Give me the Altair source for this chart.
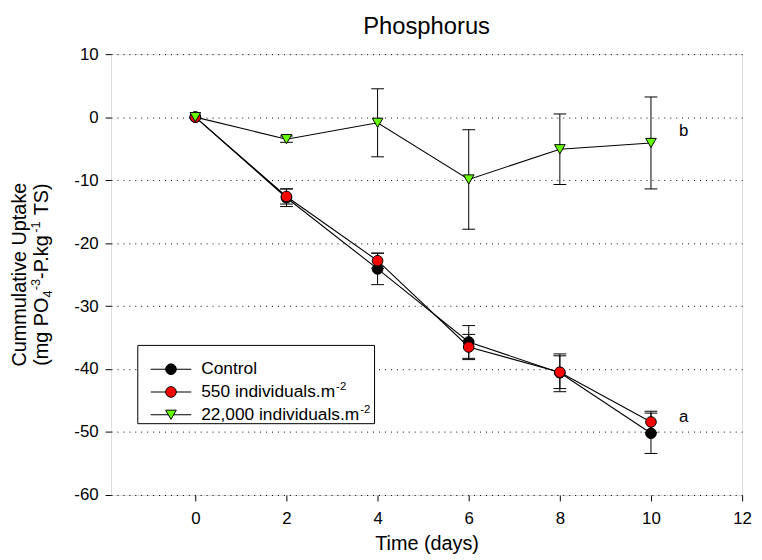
import altair as alt
import pandas as pd

# ---- data ----
days = [0, 2, 4, 6, 8, 10]
series_names = ["Control", "550 individuals.m", "22,000 individuals.m"]
control = [0, -12.8, -24.1, -35.7, -40.6, -50.2]
control_err = [0, 1.4, 2.5, 2.6, 3.0, 3.2]
ind550 = [0, -12.6, -22.8, -36.5, -40.5, -48.4]
ind550_err = [0, 1.2, 1.2, 2.0, 2.6, 1.7]
ind22000 = [0, -3.5, -0.9, -9.9, -5.1, -4.1]
ind22000_err = [0, 0.5, 5.4, 7.9, 5.6, 7.3]
sig_labels = ["b", "a"]
sig_x = [10.72, 10.72]
sig_y = [-2.2, -47.6]
x_ticks = [0, 2, 4, 6, 8, 10, 12]
y_ticks = [-60, -50, -40, -30, -20, -10, 0, 10]

fills = ["#000000", "#ff0000", "#66ff00"]
shapes = ["circle", "circle", "triangle-down"]

rows = []
for name, vals, errs in [(series_names[0], control, control_err),
                         (series_names[1], ind550, ind550_err),
                         (series_names[2], ind22000, ind22000_err)]:
    for d, v, e in zip(days, vals, errs):
        rows.append({"series": name, "day": d, "value": v, "err": e})
df = pd.DataFrame(rows)
sig_df = pd.DataFrame({"label": sig_labels, "x": sig_x, "y": sig_y})

FONT = "Liberation Sans"
W, H = 637, 445

xscale = alt.Scale(domain=[-1.85, 12], nice=False, zero=False)
yscale = alt.Scale(domain=[-60, 10], nice=False, zero=False)
xaxis = alt.Axis(values=x_ticks, title="Time (days)", grid=False, domain=False,
                 tickSize=6, tickColor="black", labelFontSize=17, labelFont=FONT,
                 labelColor="black", labelPadding=10, titleFont=FONT, titleFontSize=20,
                 titleFontWeight="normal", titleColor="black", titleBaseline="alphabetic",
                 titleY=55, labelFlush=False, labelExpr="'' + datum.value")
yaxis = alt.Axis(values=y_ticks, title=None, grid=True, gridDash=[1, 5], gridColor="black",
                 gridWidth=1, gridOpacity=1, domain=False, tickSize=6, tickColor="black",
                 labelFontSize=17, labelFont=FONT, labelColor="black", labelPadding=7,
                 labelFlush=False, labelExpr="'' + datum.value")

color_scale = alt.Scale(domain=series_names, range=fills)
shape_scale = alt.Scale(domain=series_names, range=shapes)

base = alt.Chart(df)

# error bars
eb = base.transform_filter("datum.err > 0").transform_calculate(
    lo="datum.value - datum.err", hi="datum.value + datum.err",
    cl="datum.day - 0.14", cr="datum.day + 0.14")
err_rule = eb.mark_rule(color="black", strokeWidth=1).encode(
    x=alt.X("day:Q", scale=xscale, axis=xaxis),
    y=alt.Y("lo:Q", scale=yscale, axis=yaxis),
    y2="hi:Q")
cap_lo = eb.mark_rule(color="black", strokeWidth=1).encode(
    x=alt.X("cl:Q", scale=xscale, axis=xaxis), x2="cr:Q",
    y=alt.Y("lo:Q", scale=yscale, axis=yaxis))
cap_hi = eb.mark_rule(color="black", strokeWidth=1).encode(
    x=alt.X("cl:Q", scale=xscale, axis=xaxis), x2="cr:Q",
    y=alt.Y("hi:Q", scale=yscale, axis=yaxis))

lines = base.mark_line(color="black", strokeWidth=1.1).encode(
    x=alt.X("day:Q", scale=xscale, axis=xaxis),
    y=alt.Y("value:Q", scale=yscale, axis=yaxis),
    detail="series:N", order="day:Q")

points = base.mark_point(filled=True, size=115, stroke="black", strokeWidth=1, opacity=1).encode(
    x=alt.X("day:Q", scale=xscale, axis=xaxis),
    y=alt.Y("value:Q", scale=yscale, axis=yaxis),
    fill=alt.Fill("series:N", scale=color_scale, legend=None),
    shape=alt.Shape("series:N", scale=shape_scale, legend=None),
    order=alt.Order("sidx:Q")
).transform_calculate(
    sidx="indexof(%s, datum.series)" % str(series_names).replace("'", '"'))

sig = alt.Chart(sig_df).mark_text(font=FONT, fontSize=17, color="black",
                                  align="center", baseline="middle").encode(
    x=alt.X("x:Q", scale=xscale, axis=xaxis),
    y=alt.Y("y:Q", scale=yscale, axis=yaxis),
    text="label:N")

one = pd.DataFrame({"k": [0]})

def txt(s, px, py, size, align="left", baseline="alphabetic", angle=0):
    kw = dict(font=FONT, fontSize=size, color="black", align=align, baseline=baseline, text=s)
    if angle:
        kw["angle"] = angle
    return alt.Chart(one).mark_text(**kw).encode(x=alt.value(px), y=alt.value(py))

layers = [err_rule, cap_lo, cap_hi, lines, points, sig]

# chart title
layers.append(txt("Phosphorus", W / 2, -20, 24, align="center"))

# y-axis title (two lines, with sub/superscripts)
layers.append(txt("Cummulative Uptake", -86, H / 2, 20, align="center", angle=270))
em = {'(': .333, 'm': .833, 'g': .556, ' ': .278, 'P': .667, 'O': .778, '4': .556,
      '-': .333, '3': .556, '.': .278, 'k': .5, '1': .556, 'T': .611, 'S': .667, ')': .333}
def wid(s, size):
    return sum(em[c] for c in s) * size
MAIN, SCR = 20, 13
pieces = [("(mg PO", MAIN, 0, 0), ("4", SCR, 4, 0), ("-3", SCR, -8, 0), ("-P.kg", MAIN, 0, 0),
          ("-1", SCR, -8, 0), ("TS)", MAIN, 0, 0)]
gaps = [0, 0, 0, 0, 6, 0]
total = sum(wid(s, f) + g for (s, f, _, _), g in zip(pieces, gaps))
ypos = H / 2 + total / 2
base_x = -64
for (s, f, sh, _), g in zip(pieces, gaps):
    layers.append(txt(s, base_x + sh, ypos, f, align="left", angle=270))
    ypos -= wid(s, f) + g

# legend
bx0, by0, bx1, by1 = 27, 294, 266, 373
layers.append(alt.Chart(one).mark_rect(fill="white", stroke="black", strokeWidth=1).encode(
    x=alt.value(bx0), x2=alt.value(bx1), y=alt.value(by0), y2=alt.value(by1)))
row_y = [318, 341, 364]
LF = 17.5
em2 = dict(em)
em2.update({'5': .556, '0': .556, '2': .556, ',': .278, 'i': .222, 'n': .556,
            'd': .556, 'v': .5, 'u': .556, 'a': .556, 'l': .222, 's': .5})
for name, f, shp, ry in zip(series_names, fills, shapes, row_y):
    layers.append(alt.Chart(one).mark_rule(color="black", strokeWidth=1.1).encode(
        x=alt.value(40), x2=alt.value(81), y=alt.value(ry)))
    layers.append(alt.Chart(one).mark_point(filled=True, size=115, shape=shp, fill=f,
                                            stroke="black", strokeWidth=1, opacity=1).encode(
        x=alt.value(60.5), y=alt.value(ry)))
    layers.append(txt(name, 91, ry, LF, baseline="middle"))
    if name != "Control":
        w = sum(em2[c] for c in name) * LF
        layers.append(txt("-2", 91 + w + 1, ry - 5, 11.5, baseline="middle"))

chart = alt.layer(*layers).properties(
    width=W, height=H,
    padding={"left": 104, "top": 44, "right": 12, "bottom": 60},
    autosize=alt.AutoSizeParams(type="none"),
).configure_view(stroke="black", strokeWidth=1).configure(background="white")

chart.save("out.html", embed_options={"renderer": "svg", "actions": False})
